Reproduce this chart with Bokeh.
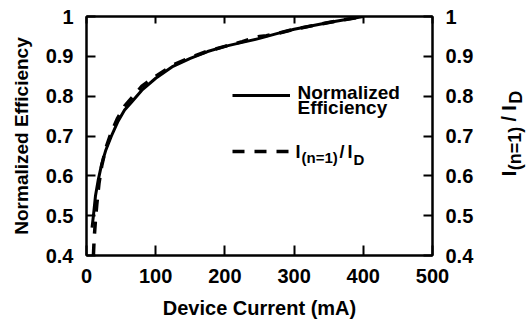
import math
from bokeh.plotting import figure
from bokeh.layouts import row
from bokeh.models import LinearAxis, Range1d, FixedTicker, Label, Legend, LegendItem
from bokeh.core.properties import value
from bokeh.embed import file_html
from bokeh.resources import INLINE

# ---- data ----
eff_current = [8, 10, 13, 17, 22, 28, 36, 45, 55, 65, 80, 100, 125, 150, 175,
               200, 225, 250, 275, 300, 350, 400]
eff_values = [0.47, 0.50, 0.55, 0.59, 0.63, 0.665, 0.70, 0.735, 0.765, 0.785,
              0.815, 0.845, 0.875, 0.895, 0.912, 0.925, 0.935, 0.945, 0.957,
              0.968, 0.985, 1.0]
ratio_current = [10, 11, 13, 15, 18, 22, 28, 36, 45, 55, 65, 80, 100, 125, 150,
                 175, 200, 225, 250, 260, 275, 300, 350, 400]
ratio_values = [0.40, 0.44, 0.49, 0.53, 0.58, 0.625, 0.67, 0.71, 0.745, 0.775,
                0.795, 0.825, 0.85, 0.878, 0.897, 0.913, 0.925, 0.937, 0.95,
                0.952, 0.957, 0.968, 0.985, 1.0]
x_ticks = [0, 100, 200, 300, 400, 500]
y_ticks = [0.4, 0.5, 0.6, 0.7, 0.8, 0.9, 1.0]
x_label = "Device Current (mA)"
y_label = "Normalized Efficiency"
legend_eff = ["Normalized", "Efficiency"]

FONT = "Liberation Sans"
W, H = 490, 321
BL, BR, BT, BB = 86, 58, 16, 64
FL = BL                 # frame left in page px
FB = H - BB             # frame bottom in page px

p = figure(width=W, height=H, output_backend="svg", toolbar_location=None,
           x_range=Range1d(0, 500), y_range=Range1d(0.4, 1.0),
           min_border_left=BL, min_border_right=BR, min_border_top=BT,
           min_border_bottom=BB)
p.xgrid.visible = False
p.ygrid.visible = False
p.outline_line_color = "black"
p.outline_line_width = 2
p.background_fill_color = "white"
p.border_fill_color = "white"


def style_axis(ax, tick_len):
    ax.axis_line_color = "black"
    ax.axis_line_width = 2
    ax.major_tick_in = tick_len
    ax.major_tick_out = 0
    ax.major_tick_line_width = 2
    ax.major_tick_line_color = "black"
    ax.minor_tick_line_color = None
    ax.major_label_text_font = FONT
    ax.major_label_text_font_style = "bold"
    ax.major_label_text_font_size = "20px"
    ax.major_label_text_color = "black"
    ax.axis_label_text_font = FONT
    ax.axis_label_text_font_style = "bold"
    ax.axis_label_text_color = "black"


xa = p.xaxis[0]
xa.ticker = FixedTicker(ticks=x_ticks)
style_axis(xa, 10)
xa.major_label_standoff = 13
xa.axis_label = x_label
xa.axis_label_text_font_size = "20px"
xa.axis_label_standoff = 11

ya = p.yaxis[0]
ya.ticker = FixedTicker(ticks=y_ticks)
style_axis(ya, 9)
ya.major_label_overrides = {1.0: "1"}
ya.major_label_standoff = 13
ya.axis_label = y_label
ya.axis_label_text_font_size = "19px"
ya.axis_label_standoff = 11

ra = LinearAxis(ticker=FixedTicker(ticks=y_ticks))
style_axis(ra, 9)
ra.major_label_overrides = {1.0: "1"}
ra.major_label_standoff = 13
p.add_layout(ra, "right")

ta = LinearAxis(ticker=FixedTicker(ticks=x_ticks))
style_axis(ta, 7)
ta.major_label_overrides = {t: "" for t in x_ticks}
ta.major_label_standoff = 0
ta.major_label_text_font_size = "1px"
p.add_layout(ta, "above")

r_eff = p.line(eff_current, eff_values, line_color="black", line_width=3)
r_ratio = p.line(ratio_current, ratio_values, line_color="black",
                 line_width=3.5, line_dash="12 10")

leg = Legend(items=[LegendItem(label=" ", renderers=[r_eff]),
                    LegendItem(label=" ", renderers=[r_ratio])],
             location=(232 - FL, FB - 163),
             glyph_width=58, glyph_height=20, label_height=20,
             label_text_font_size="8px", label_standoff=0, label_width=1,
             spacing=36, padding=0, margin=0,
             background_fill_alpha=0, border_line_color=None)
p.add_layout(leg, "center")


def txt(px, py, text, size):
    p.add_layout(Label(x=px - FL, y=FB - py, x_units="screen", y_units="screen",
                       text=text, text_font=FONT, text_font_style="bold",
                       text_font_size=f"{size}px", text_color="black",
                       text_baseline="alphabetic", text_align="left"))


# legend texts
txt(297, 94, legend_eff[0], 19)
txt(297, 109, legend_eff[1], 19)
txt(295, 153, "I", 18)
txt(301, 159, "(n=1)", 15)
txt(339, 153, "/", 18)
txt(347, 153, "I", 18)
txt(353, 161, "D", 15)

# right-hand rotated axis title, in a narrow side panel whose frame is aligned
# with the main frame (vertical pixel coordinates measured from the page top)
W2 = 526 - W
p2 = figure(width=W2, height=H, output_backend="svg", toolbar_location=None,
            x_range=Range1d(0, W2), y_range=Range1d(H - FB, H - BT),
            x_axis_location=None, y_axis_location=None, title=None,
            min_border_left=0, min_border_right=0,
            min_border_top=BT, min_border_bottom=BB)
p2.grid.visible = False
p2.outline_line_color = None
p2.background_fill_color = "white"
p2.border_fill_color = "white"


def rtxt(px, py, text, size):
    p2.text(x=[px - W], y=[H - py], text=[text], angle=math.pi / 2,
            text_font=value(FONT), text_font_style="bold",
            text_font_size=value(f"{size}px"), text_color="black",
            text_baseline="alphabetic", text_align="left")


rtxt(508, 177, "I", 20)
rtxt(514, 171, "(n=1)", 18)
rtxt(508, 122, "/", 20)
rtxt(508, 111, "I", 20)
rtxt(515, 104, "D", 18)

layout = row(p, p2)
open("out.html", "w").write(file_html(layout, INLINE))
